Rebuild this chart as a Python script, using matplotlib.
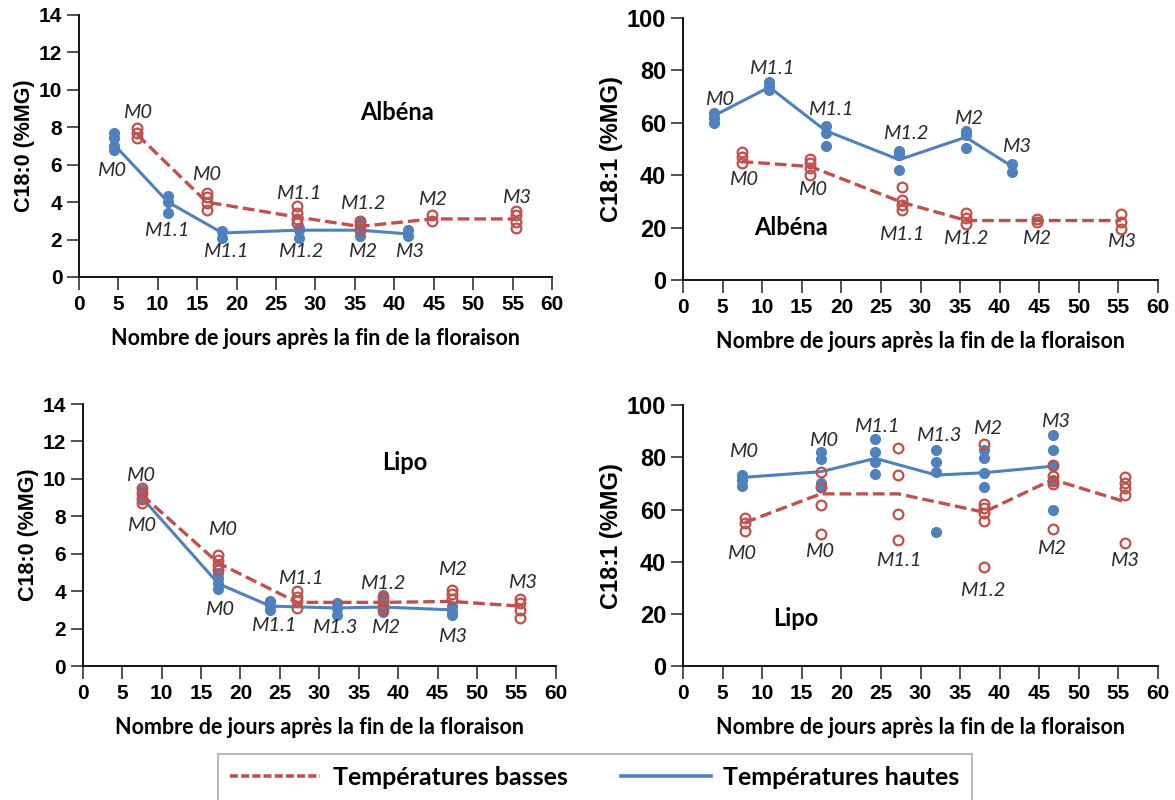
import matplotlib
matplotlib.use('Agg')
import matplotlib.pyplot as plt
from matplotlib.lines import Line2D

red = '#C0504D'
blue = '#4F81BD'

# --- Albena, C18:0 ---
alb_c180_hi_x = [4.4, 11.3, 18.2, 27.9, 35.7, 41.7]
alb_c180_hi_pts = [[7.7, 7.4, 7.0, 6.8], [4.3, 4.0, 3.4], [2.45, 2.1], [2.6, 2.5, 2.1],
                   [3.0, 2.7, 2.2], [2.5, 2.2]]
alb_c180_hi_line = [7.1, 4.0, 2.35, 2.5, 2.5, 2.3]
alb_c180_lo_x = [7.4, 16.2, 27.7, 35.6, 44.8, 55.4]
alb_c180_lo_pts = [[7.95, 7.7, 7.4], [4.5, 4.25, 3.95, 3.6], [3.8, 3.4, 3.1, 2.9],
                   [3.0, 2.8, 2.5], [3.3, 3.0], [3.55, 3.3, 2.95, 2.6]]
alb_c180_lo_line = [7.6, 4.0, 3.2, 2.7, 3.1, 3.1]
alb_c180_labels = [('M0', 7.4, 8.8, red), ('M0', 4.1, 5.7, blue), ('M0', 16.2, 5.45, red),
                   ('M1.1', 11.1, 2.5, blue), ('M1.1', 18.6, 1.34, blue), ('M1.1', 27.9, 4.46, red),
                   ('M1.2', 28.1, 1.34, blue), ('M1.2', 36.0, 3.93, red), ('M2', 36.0, 1.34, blue),
                   ('M3', 41.9, 1.34, blue), ('M2', 44.9, 4.16, red), ('M3', 55.5, 4.25, red)]

# --- Albena, C18:1 ---
alb_c181_hi_x = [3.9, 10.9, 18.0, 27.3, 35.7, 41.6]
alb_c181_hi_pts = [[63.9, 61.8, 59.9], [75.4, 74.1, 72.6], [58.9, 56.1, 51.0],
                   [49.4, 47.8, 42.0], [56.9, 55.4, 50.3], [44.3, 41.4]]
alb_c181_hi_line = [62.7, 73.6, 57.0, 45.9, 54.5, 43.3]
alb_c181_lo_x = [7.4, 16.1, 27.7, 35.8, 44.7, 55.3]
alb_c181_lo_pts = [[49.0, 47.1, 44.8], [46.2, 44.6, 42.7, 40.1], [35.4, 30.6, 28.7, 26.8],
                   [25.7, 23.6, 21.4], [23.3, 22.0], [25.1, 22.3, 19.4]]
alb_c181_lo_line = [45.2, 43.3, 29.6, 22.7, 22.7, 22.7]
alb_c181_labels = [('M0', 4.65, 68.8, blue), ('M1.1', 11.2, 80.9, blue), ('M1.1', 18.6, 65.0, blue),
                   ('M1.2', 28.1, 56.0, blue), ('M2', 36.0, 61.8, blue), ('M3', 42.1, 51.0, blue),
                   ('M0', 7.6, 38.2, red), ('M0', 16.3, 34.6, red), ('M1.1', 27.6, 17.2, red),
                   ('M1.2', 35.7, 15.9, red), ('M2', 44.7, 15.9, red), ('M3', 55.4, 14.6, red)]

# --- Lipo, C18:0 ---
lip_c180_hi_x = [7.5, 17.2, 23.8, 32.2, 38.1, 46.8]
lip_c180_hi_pts = [[9.4, 9.15, 8.9], [4.95, 4.7, 4.45, 4.1], [3.5, 3.25, 3.0],
                   [3.35, 3.1, 2.75], [3.8, 3.35, 2.9], [3.2, 2.95, 2.75]]
lip_c180_hi_line = [9.0, 4.4, 3.2, 3.1, 3.15, 3.0]
lip_c180_lo_x = [7.5, 17.2, 27.2, 38.1, 46.8, 55.4]
lip_c180_lo_pts = [[9.5, 9.25, 8.95, 8.7], [5.95, 5.65, 5.4, 5.15], [4.0, 3.7, 3.45, 3.1],
                   [3.7, 3.45, 3.2, 3.0], [4.05, 3.85, 3.6], [3.6, 3.35, 3.0, 2.55]]
lip_c180_lo_line = [9.15, 5.5, 3.4, 3.4, 3.45, 3.2]
lip_c180_labels = [('M0', 7.3, 10.2, red), ('M0', 7.5, 7.5, blue), ('M0', 17.7, 7.27, red),
                   ('M0', 17.4, 3.0, blue), ('M1.1', 27.6, 4.69, red), ('M1.1', 24.2, 2.19, blue),
                   ('M1.3', 32.0, 2.07, blue), ('M1.2', 38.0, 4.42, red), ('M2', 38.4, 2.07, blue),
                   ('M2', 46.9, 5.13, red), ('M3', 46.9, 1.57, blue), ('M3', 55.8, 4.46, red)]

# --- Lipo, C18:1 ---
lip_c181_hi_x = [7.5, 17.4, 24.3, 32.0, 38.0, 46.7]
lip_c181_hi_pts = [[73.4, 71.3, 69.1], [82.1, 79.2, 70.2, 68.7], [87.2, 81.9, 78.3, 73.8],
                   [83.0, 78.3, 74.5, 51.5], [83.0, 79.6, 74.1, 68.7],
                   [88.5, 83.0, 76.6, 71.5, 60.0]]
lip_c181_hi_line = [72.3, 74.5, 79.6, 73.2, 74.1, 76.6]
lip_c181_lo_x = [7.8, 17.4, 27.2, 38.0, 46.7, 55.8]
lip_c181_lo_pts = [[56.6, 54.7, 51.9], [74.5, 68.7, 61.7, 50.6], [83.4, 73.2, 58.2, 48.3],
                   [85.3, 62.3, 60.4, 58.5, 55.6, 37.8], [77.0, 72.8, 71.0, 69.6, 52.4],
                   [72.3, 70.2, 68.1, 65.5, 47.3]]
lip_c181_lo_line = [55.0, 66.0, 66.0, 59.0, 71.5, 63.0]
lip_c181_labels = [('M0', 7.6, 82.1, blue), ('M0', 17.7, 86.6, blue), ('M1.1', 24.4, 91.7, blue),
                   ('M1.3', 32.3, 88.5, blue), ('M2', 38.4, 91.0, blue), ('M3', 47.0, 93.6, blue),
                   ('M0', 7.4, 43.2, red), ('M0', 17.3, 43.8, red), ('M1.1', 27.3, 40.6, red),
                   ('M1.2', 37.9, 29.1, red), ('M2', 46.6, 45.1, red), ('M3', 55.8, 40.6, red)]

xlabel = 'Nombre de jours après la fin de la floraison'
legend_labels = ['Températures basses', 'Températures hautes']

panels = [
    # rect, ymax, yticks, ylabel, name, name pos, data..., big y font
    ([0.0672, 0.6538, 0.4026, 0.3275], 14, range(0, 15, 2), 'C18:0 (%MG)', 'Albéna', (40.3, 8.8),
     alb_c180_hi_x, alb_c180_hi_pts, alb_c180_hi_line,
     alb_c180_lo_x, alb_c180_lo_pts, alb_c180_lo_line, alb_c180_labels, False),
    ([0.5813, 0.6500, 0.4043, 0.3275], 100, range(0, 101, 20), 'C18:1 (%MG)', 'Albéna', (13.7, 20),
     alb_c181_hi_x, alb_c181_hi_pts, alb_c181_hi_line,
     alb_c181_lo_x, alb_c181_lo_pts, alb_c181_lo_line, alb_c181_labels, True),
    ([0.0704, 0.1675, 0.4026, 0.3275], 14, range(0, 15, 2), 'C18:0 (%MG)', 'Lipo', (40.9, 10.9),
     lip_c180_hi_x, lip_c180_hi_pts, lip_c180_hi_line,
     lip_c180_lo_x, lip_c180_lo_pts, lip_c180_lo_line, lip_c180_labels, False),
    ([0.5813, 0.1675, 0.4043, 0.3260], 100, range(0, 101, 20), 'C18:1 (%MG)', 'Lipo', (14.2, 18.3),
     lip_c181_hi_x, lip_c181_hi_pts, lip_c181_hi_line,
     lip_c181_lo_x, lip_c181_lo_pts, lip_c181_lo_line, lip_c181_labels, True),
]

num_font = 'Liberation Sans'
txt_font = 'Lato'

fig = plt.figure(figsize=(11.75, 8), dpi=100)

for p in panels:
    (rect, ymax, yticks, ylab, name, name_xy, hx, hpts, hline,
     lx, lpts, lline, labels, big) = p
    ax = fig.add_axes(rect)

    # temperatures hautes: filled blue
    ax.plot(hx, hline, color=blue, lw=2.2, zorder=2)
    for x, pts in zip(hx, hpts):
        ax.plot([x] * len(pts), pts, linestyle='none', marker='o', ms=7,
                color=blue, mec=blue, zorder=3)
    # temperatures basses: open red circles, dashed
    ax.plot(lx, lline, color=red, lw=2.4, linestyle=(0, (3.5, 1.5)), zorder=4)
    for x, pts in zip(lx, lpts):
        ax.plot([x] * len(pts), pts, linestyle='none', marker='o', ms=7,
                mfc='none', mec=red, mew=1.6, zorder=5)

    for txt, x, y, c in labels:
        ax.text(x, y, txt, ha='center', va='center', fontsize=14.5, style='italic',
                family=txt_font, color='#2a2a2a')
    ax.text(name_xy[0], name_xy[1], name, ha='center', va='center', fontsize=17,
            fontweight='bold', family=txt_font)

    ax.set_xlim(0, 60)
    ax.set_ylim(0, ymax)
    ax.set_xticks(range(0, 61, 5))
    ax.set_yticks(list(yticks))
    for s in ['top', 'right']:
        ax.spines[s].set_visible(False)
    for s in ['left', 'bottom']:
        ax.spines[s].set_linewidth(1.4)
        ax.spines[s].set_color('#111111')
    ax.tick_params(axis='x', length=9, width=1.2, pad=4, labelsize=15, color='#333333')
    ax.tick_params(axis='y', length=9, width=1.2, pad=3, labelsize=17 if big else 15,
                   color='#333333')
    for lab in ax.get_xticklabels() + ax.get_yticklabels():
        lab.set_fontfamily(num_font)
        lab.set_fontweight('bold')
    ax.set_xlabel(xlabel, fontsize=15.5, fontweight='bold', family=txt_font, labelpad=10)
    ax.set_ylabel(ylab, fontsize=17 if big else 15.5, fontweight='bold', family=num_font,
                  labelpad=3)

handles = [Line2D([], [], color=red, lw=2.6, linestyle=(0, (2.2, 0.9))),
           Line2D([], [], color=blue, lw=2.6)]
leg = fig.legend(handles, legend_labels, loc='upper left', ncol=2, mode='expand',
                 bbox_to_anchor=(0.1855, 0.0, 0.6417, 0.058), borderaxespad=0,
                 frameon=True, fancybox=False,
                 edgecolor='#999999', handlelength=3.6, handletextpad=0.5, borderpad=0.5,
                 prop={'family': txt_font, 'weight': 'bold', 'size': 18})
leg.get_frame().set_linewidth(1.2)

plt.savefig('out.png', dpi=100)
